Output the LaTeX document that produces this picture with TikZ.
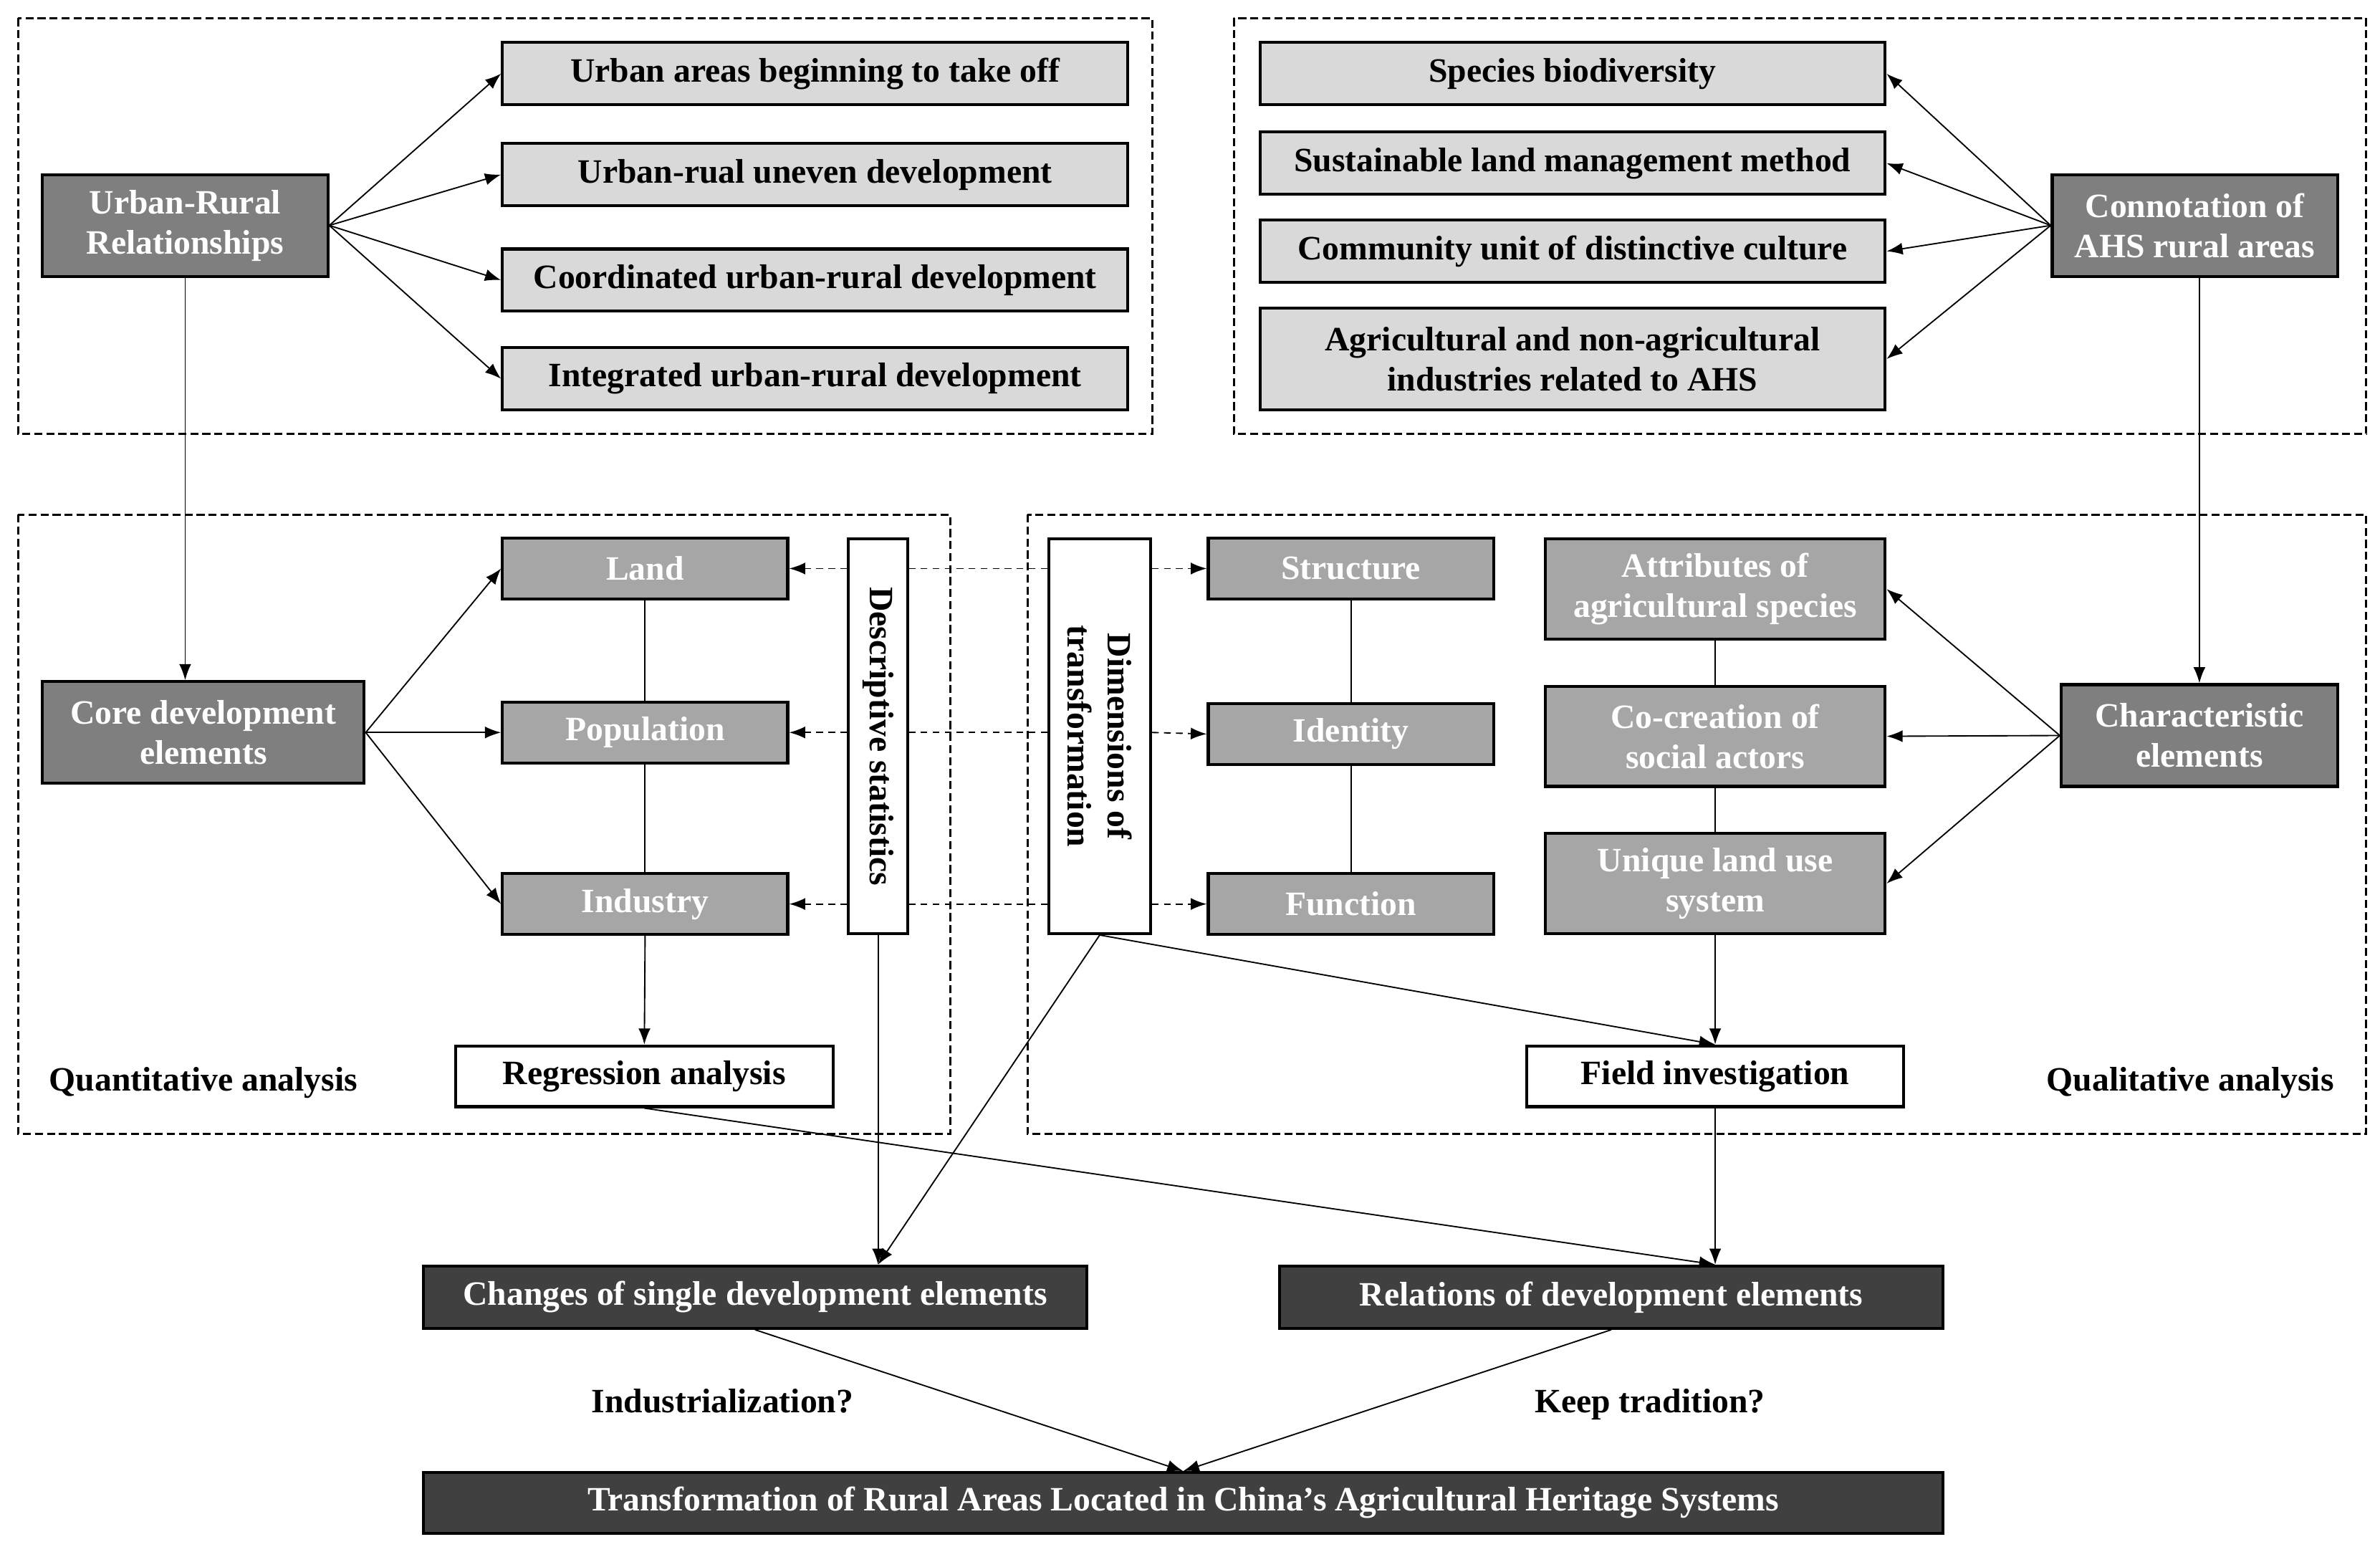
\documentclass[tikz,border=0pt]{standalone}
\usepackage{fontspec}
\setmainfont{Liberation Serif}
\usepackage{tikz}
\usetikzlibrary{arrows.meta,calc}
\definecolor{darkgrey}{HTML}{7F7F7F}
\definecolor{midgrey}{HTML}{A6A6A6}
\definecolor{lightgrey}{HTML}{D9D9D9}
\definecolor{blackgrey}{HTML}{404040}
\tikzset{
	box/.style={draw=black,line width=1.1pt,inner sep=0pt,align=center,
			font=\bfseries\fontsize{12.8}{15}\selectfont},
	darkbox/.style={box,fill=darkgrey,text=white},
	midbox/.style={box,fill=midgrey,text=white},
	lightbox/.style={box,fill=lightgrey},
	plainbox/.style={box,fill=white},
	blackbox/.style={box,fill=blackgrey,text=white},
	tag/.style={font=\bfseries\fontsize{12.8}{15}\selectfont,text height=2.2ex,text depth=0.6ex},
	frame/.style={line width=0.8pt,dash pattern=on 3pt off 1.5pt},
	link/.style={line width=0.5pt,-{Latex[length=6pt,width=4.5pt]}},
	dlink/.style={line width=0.5pt,dash pattern=on 2.5pt off 2pt,-{Latex[length=6pt,width=4.5pt]}}
}

\begin{document}
\begin{tikzpicture}[x=0.02cm,y=-0.02cm]
  \useasboundingbox (0,0) rectangle (1568,1022);

  % dashed regions
  \draw[frame] (12,12) rectangle (759,286);
  \draw[frame] (813,12) rectangle (1559,286);
  \draw[frame] (12,339) rectangle (626,747);
  \draw[frame] (677,339) rectangle (1559,747);

  % urban-rural relationships
  \node[darkbox,minimum width=3.76cm,minimum height=1.34cm] (urbrural) at (122,148.5) {Urban-Rural\\Relationships};
  \node[lightbox,minimum width=8.24cm,minimum height=0.82cm] (stage1) at (537,48.5) {Urban areas beginning to take off};
  \node[lightbox,minimum width=8.24cm,minimum height=0.82cm] (stage2) at (537,115) {Urban-rual uneven development};
  \node[lightbox,minimum width=8.24cm,minimum height=0.82cm] (stage3) at (537,184.5) {Coordinated urban-rural development};
  \node[lightbox,minimum width=8.24cm,minimum height=0.82cm] (stage4) at (537,249.5) {Integrated urban-rural development};

  % connotation of AHS
  \node[darkbox,minimum width=3.76cm,minimum height=1.34cm] (connot) at (1446,148.5) {Connotation of\\AHS rural areas};
  \node[lightbox,minimum width=8.24cm,minimum height=0.82cm] (ahs1) at (1036,48.5) {Species biodiversity};
  \node[lightbox,minimum width=8.24cm,minimum height=0.82cm] (ahs2) at (1036,107.5) {Sustainable land management method};
  \node[lightbox,minimum width=8.24cm,minimum height=0.82cm] (ahs3) at (1036,165.5) {Community unit of distinctive culture};
  \node[lightbox,minimum width=8.24cm,minimum height=1.34cm] (ahs4) at (1036,236.5) {Agricultural and non-agricultural\\industries related to AHS};

  % quantitative analysis
  \node[darkbox,minimum width=4.24cm,minimum height=1.34cm] (core) at (134,482.5) {Core development\\elements};
  \node[midbox,minimum width=3.76cm,minimum height=0.8cm] (land) at (425,374.5) {Land};
  \node[midbox,minimum width=3.76cm,minimum height=0.8cm] (pop) at (425,482.5) {Population};
  \node[midbox,minimum width=3.76cm,minimum height=0.8cm] (ind) at (425,595.5) {Industry};
  \node[plainbox,rotate=-90,minimum width=5.2cm,minimum height=0.78cm] (descr) at (578.5,485) {Descriptive statistics};
  \node[plainbox,minimum width=4.98cm,minimum height=0.8cm] (regr) at (424.5,709) {Regression analysis};
  \node[tag] (quant) at (134,712) {Quantitative analysis};

  % qualitative analysis
  \node[plainbox,rotate=-90,minimum width=5.2cm,minimum height=1.34cm] (dims) at (724.5,485) {Dimensions of\\transformation};
  \node[midbox,minimum width=3.76cm,minimum height=0.8cm] (struct) at (890,374.5) {Structure};
  \node[midbox,minimum width=3.76cm,minimum height=0.8cm] (ident) at (890,483.5) {Identity};
  \node[midbox,minimum width=3.76cm,minimum height=0.8cm] (func) at (890,595.5) {Function};
  \node[midbox,minimum width=4.48cm,minimum height=1.32cm] (attr) at (1130,388) {Attributes of\\agricultural species};
  \node[midbox,minimum width=4.48cm,minimum height=1.32cm] (cocr) at (1130,485) {Co-creation of\\social actors};
  \node[midbox,minimum width=4.48cm,minimum height=1.32cm] (uniq) at (1130,582) {Unique land use\\system};
  \node[darkbox,minimum width=3.64cm,minimum height=1.34cm] (charel) at (1449,484.5) {Characteristic\\elements};
  \node[plainbox,minimum width=4.96cm,minimum height=0.8cm] (field) at (1130,709) {Field investigation};
  \node[tag] (qual) at (1443,712) {Qualitative analysis};

  % results
  \node[blackbox,minimum width=8.74cm,minimum height=0.82cm] (changes) at (497.5,854.5) {Changes of single development elements};
  \node[blackbox,minimum width=8.74cm,minimum height=0.82cm] (relat) at (1061.5,854.5) {Relations of development elements};
  \node[blackbox,minimum width=20.02cm,minimum height=0.8cm] (transf) at (779.5,990) {Transformation of Rural Areas Located in China’s Agricultural Heritage Systems};
  \node[tag] (indus) at (476,924) {Industrialization?};
  \node[tag] (keep) at (1087,924) {Keep tradition?};

  % connectors
  \foreach \s in {stage1,stage2,stage3,stage4}
    \draw[link] (urbrural.east) -- (\s.west);
  \foreach \s in {ahs1,ahs2,ahs3,ahs4}
    \draw[link] (connot.west) -- (\s.east);
  \draw[link] (urbrural.south) -- (urbrural.south |- core.north);
  \draw[link] (charel.north |- connot.south) -- (charel.north);

  \foreach \s in {land,pop,ind}
    \draw[link] (core.east) -- (\s.west);
  \draw[line width=0.5pt] (land) -- (pop) -- (ind);
  \draw[link] (ind.south) -- (regr.north);

  % rotated boxes: north = right side, south = left side, east = bottom
  \foreach \s/\t in {land/struct,pop/ident,ind/func}{
    \draw[dlink] (dims.north |- \s) -- (\t.west);
    \draw[line width=0.5pt,dash pattern=on 2.5pt off 2pt] (dims.south |- \s) -- (descr.north |- \s);
    \draw[dlink] (descr.south |- \s) -- (\s.east);
  }

  \draw[line width=0.5pt] (struct) -- (ident) -- (func);
  \draw[line width=0.5pt] (attr) -- (cocr) -- (uniq);
  \foreach \s in {attr,cocr,uniq}
    \draw[link] (charel.west) -- (\s.east);
  \draw[link] (uniq.south) -- (field.north);
  \draw[link] (dims.east) -- (field.north);

  \draw[link] (descr.east) -- (descr.east |- changes.north);
  \draw[link] (dims.east) -- (descr.east |- changes.north);
  \draw[link] (regr.south) -- (field.south |- relat.north);
  \draw[link] (field.south) -- (field.south |- relat.north);
  \draw[link] (changes.south) -- (transf.north);
  \draw[link] (relat.south) -- (transf.north);
\end{tikzpicture}
\end{document}
